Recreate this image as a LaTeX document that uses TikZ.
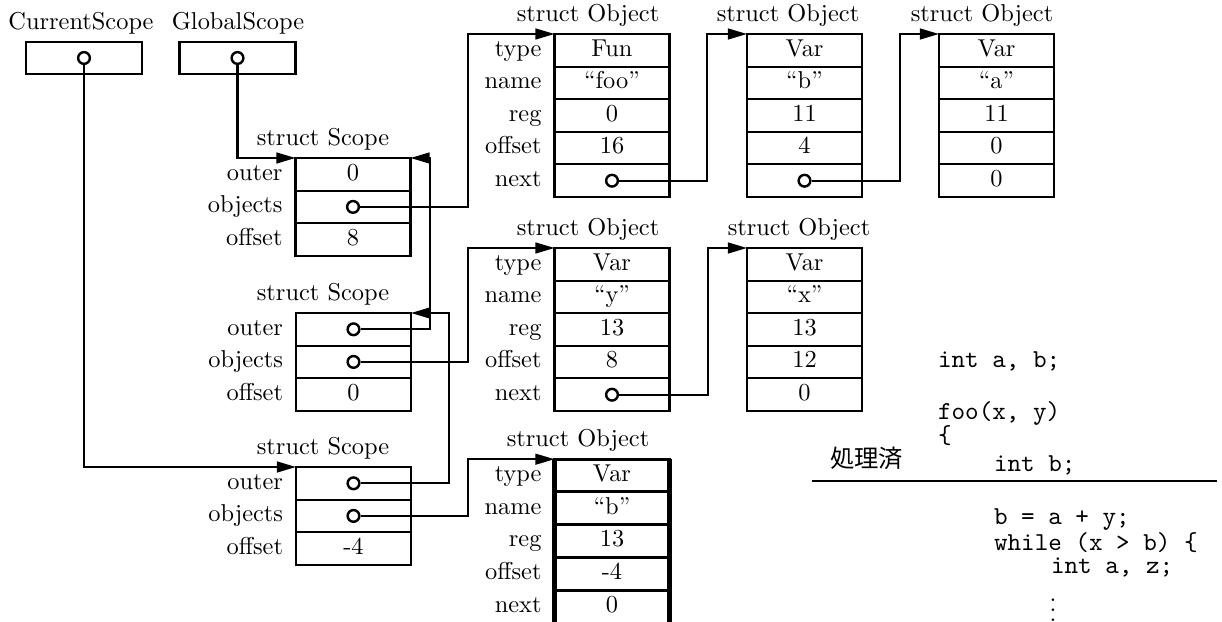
\documentclass[tikz,border=0pt]{standalone}
\usepackage{fontspec}
\newfontfamily\cjk{Noto Sans CJK JP}
\usetikzlibrary{arrows.meta}
\newcommand{\codefont}{\ttfamily\fontsize{10.6pt}{12pt}\selectfont}
% #1 style, #2 name, #3 x, #4 y centre, #5 label, #6 content
\newcommand{\mkrow}[6][cell]{%
  \node[#1] (#2) at (#3,#4) {#6};
  \node[rowlab] (#2l) at ([xshift=-4.9pt]#2.west) {#5};
}
\newcommand{\mkdot}[1]{\node[ptrdot] (#1d) at (#1) {};}
\begin{document}
\begin{tikzpicture}[x=0.41pt,y=-0.41pt, line width=0.85pt,
  cell/.style={draw, minimum width=47.15pt, minimum height=13.37pt, inner sep=0pt, outer sep=0pt, text height=6.6pt, text depth=1.9pt},
  thickcell/.style={cell, line width=1.2pt},
  topbox/.style={draw, minimum width=47.56pt, minimum height=13.1pt, inner sep=0pt, outer sep=0pt},
  rowlab/.style={anchor=east, inner sep=0pt, text height=6.6pt, text depth=1.9pt},
  ttl/.style={anchor=base, inner sep=0pt},
  ptrdot/.style={circle, draw, minimum size=4.8pt, inner sep=0pt, line width=1pt},
  ptr/.style={-{Triangle[length=7.8pt,width=4.4pt]}},
  code/.style={anchor=base west, inner sep=0pt, font=\codefont}]
\useasboundingbox (0,0) rectangle (1222,621);

% top pointer boxes
\node[ttl] (csl) at (81,30) {CurrentScope};
\node[ttl] (gsl) at (238,30) {GlobalScope};
\node[topbox] (cs) at (84,58) {};
\node[ptrdot] (csd) at (cs) {};
\node[topbox] (gs) at (237.5,58) {};
\node[ptrdot] (gsd) at (gs) {};

% scopes
\node[ttl] (ts1) at (323,145.5) {struct Scope};
\mkrow{s1a}{353}{174.3}{outer}{0}
\mkrow{s1b}{353}{206.9}{objects}{}
\mkrow{s1c}{353}{239.5}{offset}{8}
\mkdot{s1b}

\node[ttl] (ts2) at (323,300.5) {struct Scope};
\mkrow{s2a}{353.5}{329.3}{outer}{}
\mkrow{s2b}{353.5}{361.9}{objects}{}
\mkrow{s2c}{353.5}{394.5}{offset}{0}
\mkdot{s2a}
\mkdot{s2b}

\node[ttl] (ts3) at (323,454.5) {struct Scope};
\mkrow{s3a}{353.5}{483.3}{outer}{}
\mkrow{s3b}{353.5}{515.9}{objects}{}
\mkrow{s3c}{353.5}{548.5}{offset}{-4}
\mkdot{s3a}
\mkdot{s3b}

% objects, top row
\node[ttl] (to1) at (588,21.5) {struct Object};
\mkrow{o1a}{612}{50.3}{type}{Fun}
\mkrow{o1b}{612}{82.9}{name}{“foo”}
\mkrow{o1c}{612}{115.5}{reg}{0}
\mkrow{o1d}{612}{148.1}{offset}{16}
\mkrow{o1e}{612}{180.7}{next}{}
\mkdot{o1e}

\node[ttl] (to2) at (788,21.5) {struct Object};
\node[cell] (o2a) at (804.5,50.3) {Var};
\node[cell] (o2b) at (804.5,82.9) {“b”};
\node[cell] (o2c) at (804.5,115.5) {11};
\node[cell] (o2d) at (804.5,148.1) {4};
\node[cell] (o2e) at (804.5,180.7) {};
\mkdot{o2e}

\node[ttl] (to3) at (982,21.5) {struct Object};
\node[cell] (o3a) at (996.5,50.3) {Var};
\node[cell] (o3b) at (996.5,82.9) {“a”};
\node[cell] (o3c) at (996.5,115.5) {11};
\node[cell] (o3d) at (996.5,148.1) {0};
\node[cell] (o3e) at (996.5,180.7) {0};

% objects, middle row
\node[ttl] (to4) at (588,235.5) {struct Object};
\mkrow{o4a}{612}{264.3}{type}{Var}
\mkrow{o4b}{612}{296.9}{name}{“y”}
\mkrow{o4c}{612}{329.5}{reg}{13}
\mkrow{o4d}{612}{362.1}{offset}{8}
\mkrow{o4e}{612}{394.7}{next}{}
\mkdot{o4e}

\node[ttl] (to5) at (799,235.5) {struct Object};
\node[cell] (o5a) at (804.5,264.3) {Var};
\node[cell] (o5b) at (804.5,296.9) {“x”};
\node[cell] (o5c) at (804.5,329.5) {13};
\node[cell] (o5d) at (804.5,362.1) {12};
\node[cell] (o5e) at (804.5,394.7) {0};

% object, bottom (thick)
\node[ttl] (to6) at (578,446.5) {struct Object};
\mkrow[thickcell]{o6a}{612}{475.5}{type}{Var}
\mkrow[thickcell]{o6b}{612}{508.3}{name}{“b”}
\mkrow[thickcell]{o6c}{612}{541.1}{reg}{13}
\mkrow[thickcell]{o6d}{612}{573.9}{offset}{-4}
\mkrow[thickcell]{o6e}{612}{606.7}{next}{0}
\draw[line width=2pt] (o6a.north west) -- (o6e.south west);
\draw[line width=2pt] (o6a.north east) -- (o6e.south east);

% vertical runs of the connectors
\coordinate (va) at (468,0);
\coordinate (vb) at (430,0);
\coordinate (vc) at (449,0);
\coordinate (vd) at (707,0);
\coordinate (ve) at (900,0);
\coordinate (vf) at (708,0);

% connectors
\draw[ptr] (csd) |- (s3a.north west);
\draw[ptr] (gsd) |- (s1a.north west);
\draw[ptr] (s1bd) -- (s1bd -| va) |- (o1a.north west);
\draw[ptr] (s2ad) -- (s2ad -| vb) |- (s1a.north east);
\draw[ptr] (s2bd) -- (s2bd -| va) |- (o4a.north west);
\draw[ptr] (s3ad) -- (s3ad -| vc) |- (s2a.north east);
\draw[ptr] (s3bd) -- (s3bd -| va) |- (o6a.north west);
\draw[ptr] (o1ed) -- (o1ed -| vd) |- (o2a.north west);
\draw[ptr] (o2ed) -- (o2ed -| ve) |- (o3a.north west);
\draw[ptr] (o4ed) -- (o4ed -| vf) |- (o5a.north west);

% source code
\node[code] (c1) at (937,367) {int a, b;};
\node[code] (c2) at (937,419) {foo(x, y)};
\node[code] (c3) at (937,443) {\{};
\node[anchor=base west, inner sep=0pt, font=\cjk] (done) at (829,467) {処理済};
\node[code] (c4) at (993,471) {int b;};
\draw[line width=0.5pt] (812,481) coordinate (r1) -- (1217,481) coordinate (r2);
\node[code] (c5) at (993,524) {b = a + y;};
\node[code] (c6) at (993,550) {while (x > b) \{};
\node[code] (c7) at (1050,573) {int a, z;};
\node[anchor=base, inner sep=0pt] (c8) at (1053,621) {$\vdots$};
\end{tikzpicture}
\end{document}
